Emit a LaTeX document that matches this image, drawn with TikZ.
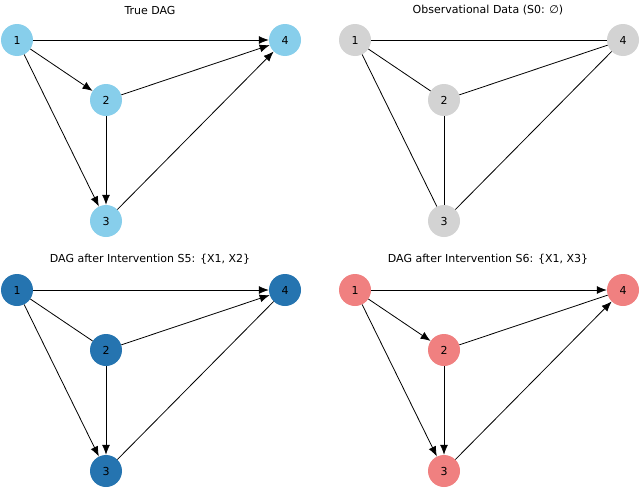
\documentclass[tikz,border=0pt]{standalone}
\usepackage{fontspec}
\setmainfont{DejaVu Sans}
\usetikzlibrary{arrows.meta}
\definecolor{sky}{HTML}{87CEEB}
\definecolor{lg}{HTML}{D3D3D3}
\definecolor{tb}{HTML}{2574B0}
\definecolor{lc}{HTML}{F08080}
\begin{document}
\begin{tikzpicture}[x=1pt,y=-1pt,
  v/.style={circle,minimum size=32pt,inner sep=0pt,font=\fontsize{11}{11}\selectfont},
  d/.style={-{Latex[length=10pt,width=8pt]},line width=0.8pt},
  u/.style={line width=0.8pt},
  ttl/.style={font=\fontsize{11}{13}\selectfont}]
\useasboundingbox (0,0) rectangle (640,490);
\newcommand{\panel}[5]{%
 \begin{scope}[shift={(#1,#2)}]
 \node[ttl] (t#5) at (150,-30) {#4};
 \node[v,fill=#3] (a#5) at (17,40) {1};
 \node[v,fill=#3] (b#5) at (106,100) {2};
 \node[v,fill=#3] (c#5) at (106,221) {3};
 \node[v,fill=#3] (e#5) at (285,40) {4};
 \end{scope}}
\panel{0}{0}{sky}{}{A}
\node[ttl] (tA) at (150,10) {True DAG};
\draw[d] (aA)--(eA); \draw[d] (aA)--(bA); \draw[d] (aA)--(cA);
\draw[d] (bA)--(eA); \draw[d] (bA)--(cA); \draw[d] (cA)--(eA);
\panel{338}{0}{lg}{}{B}
\node[ttl] (tB) at (488,10) {Observational Data (S0: ∅)};
\draw[u] (aB)--(eB); \draw[u] (aB)--(bB); \draw[u] (aB)--(cB);
\draw[u] (bB)--(eB); \draw[u] (bB)--(cB); \draw[u] (cB)--(eB);
\panel{0}{250}{tb}{}{C}
\node[ttl] (tC) at (150,259) {DAG after Intervention S5: \{X1, X2\}};
\draw[d] (aC)--(eC); \draw[u] (aC)--(bC); \draw[d] (aC)--(cC);
\draw[d] (bC)--(eC); \draw[d] (bC)--(cC); \draw[u] (cC)--(eC);
\panel{338}{250}{lc}{}{D}
\node[ttl] (tD) at (488,259) {DAG after Intervention S6: \{X1, X3\}};
\draw[d] (aD)--(eD); \draw[d] (aD)--(bD); \draw[d] (aD)--(cD);
\draw[u] (bD)--(eD); \draw[d] (bD)--(cD); \draw[d] (cD)--(eD);
\end{tikzpicture}
\end{document}
